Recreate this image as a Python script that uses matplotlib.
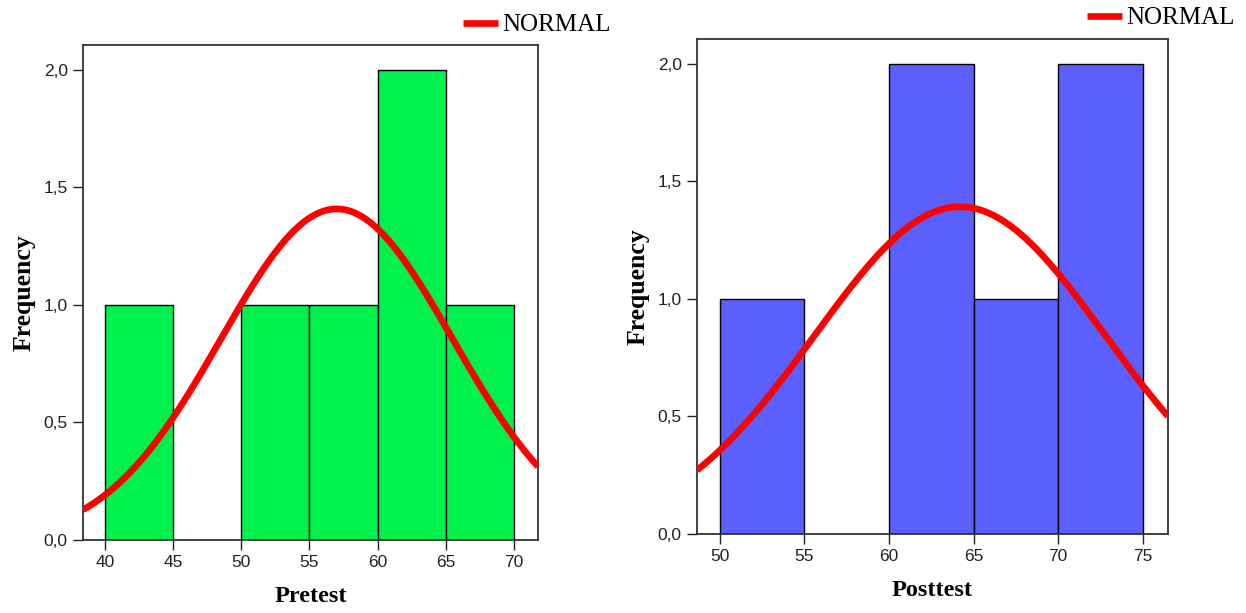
import numpy as np
import matplotlib.pyplot as plt

# bin edges and counts
pre_edges = [40, 45, 50, 55, 60, 65, 70]
pre_counts = [1, 0, 1, 1, 2, 1]
post_edges = [50, 55, 60, 65, 70, 75]
post_counts = [1, 0, 2, 1, 2]

# normal curve parameters (mean, std dev) as estimated from the curves
pre_mean, pre_sd = 57.0, 8.5
post_mean, post_sd = 64.2, 8.6

pre_xticks = [40, 45, 50, 55, 60, 65, 70]
post_xticks = [50, 55, 60, 65, 70, 75]
yticks = [0.0, 0.5, 1.0, 1.5, 2.0]

serif = ['Liberation Serif', 'DejaVu Serif']
sans = ['Liberation Sans', 'DejaVu Sans']


def normal_curve(x, mean, sd, n, width):
    return n * width / (sd * np.sqrt(2 * np.pi)) * np.exp(-(x - mean) ** 2 / (2 * sd ** 2))


def draw_panel(fig, rect, edges, counts, mean, sd, xlim, xticks, color, xlabel, leg_pos):
    ax = fig.add_axes(rect)
    edges = np.array(edges)
    w = edges[1] - edges[0]
    for left, c in zip(edges[:-1], counts):
        if c > 0:
            ax.bar(left, c, width=w, align='edge', color=color,
                   edgecolor='black', linewidth=1.0, zorder=2)
    n = sum(counts)
    xs = np.linspace(xlim[0], xlim[1], 300)
    line, = ax.plot(xs, normal_curve(xs, mean, sd, n, w), color='#ff0000',
                    lw=4.8, solid_capstyle='butt', zorder=3, label='NORMAL')
    ax.set_xlim(xlim)
    ax.set_ylim(0, 2.105)
    ax.set_xticks(xticks)
    ax.set_xticklabels([str(t) for t in xticks], family=sans, fontsize=12.5,
                       color='#222222')
    ax.set_yticks(yticks)
    ax.set_yticklabels([('%.1f' % t).replace('.', ',') for t in yticks],
                       family=sans, fontsize=12.5, color='#222222')
    ax.tick_params(direction='out', length=7, width=1.0, color='#222222', pad=4)
    for s in ax.spines.values():
        s.set_color('#333333')
        s.set_linewidth(1.3)
    ax.set_xlabel(xlabel, family=serif, fontweight='bold', fontsize=17.5, labelpad=11)
    ax.set_ylabel('Frequency', family=serif, fontweight='bold', fontsize=18.5, labelpad=6)
    fig.legend(handles=[line], loc='center left', bbox_to_anchor=leg_pos,
               frameon=False, borderpad=0, borderaxespad=0, handlelength=1.4,
               handletextpad=0.15, prop={'family': serif, 'size': 18})
    return ax


fig = plt.figure(figsize=(12.46, 6.13), dpi=100)
draw_panel(fig, [83 / 1246, 1 - 540 / 613, 455 / 1246, 495 / 613],
           pre_edges, pre_counts, pre_mean, pre_sd, (38.4, 71.75),
           pre_xticks, '#00f04e', 'Pretest', (463 / 1246, 1 - 25 / 613))
draw_panel(fig, [697 / 1246, 1 - 534 / 613, 471 / 1246, 495 / 613],
           post_edges, post_counts, post_mean, post_sd, (48.65, 76.5),
           post_xticks, '#5b5ffe', 'Posttest', (1087 / 1246, 1 - 18 / 613))
fig.savefig('out.png', dpi=100)
